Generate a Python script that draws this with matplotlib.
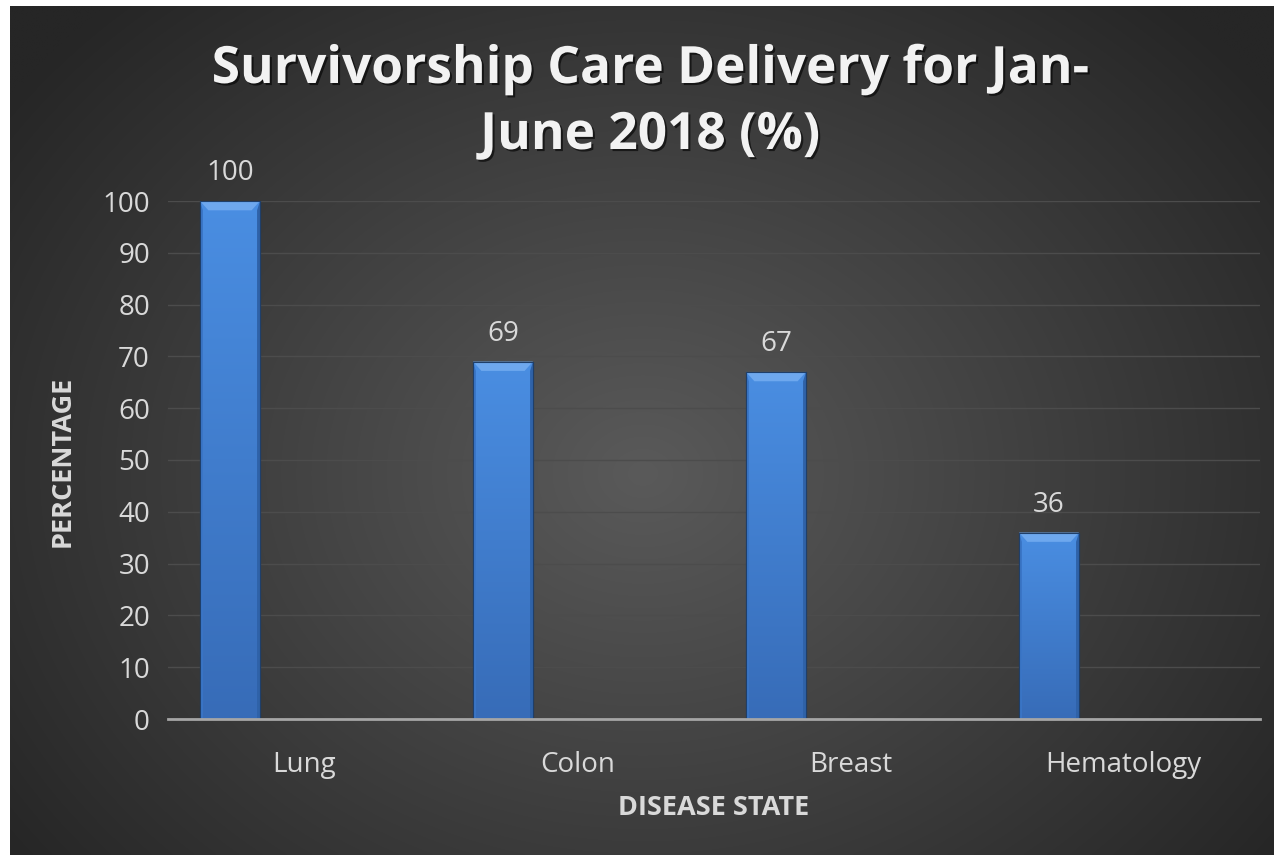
import numpy as np
import matplotlib
matplotlib.use("Agg")
import matplotlib.pyplot as plt
import matplotlib.patheffects as pe
from matplotlib.patches import Polygon

categories = ["Lung", "Colon", "Breast", "Hematology"]
values = [100, 69, 67, 36]
yticks = [0, 10, 20, 30, 40, 50, 60, 70, 80, 90, 100]
title = "Survivorship Care Delivery for Jan-\nJune 2018 (%)"
xlabel = "DISEASE STATE"
ylabel = "PERCENTAGE"

plt.rcParams['font.family'] = ['Open Sans', 'DejaVu Sans']

W, H = 1274, 855
fig = plt.figure(figsize=(W / 100, H / 100), dpi=100)
fig.patch.set_facecolor("white")

# background radial gradient
bg = fig.add_axes([10 / W, 0, 1 - 10 / W, 1 - 6 / H])
bg.set_axis_off()
ny, nx = 400, 600
yy, xx = np.mgrid[0:ny, 0:nx]
cx, cy = nx * 0.5, ny * 0.55
r = np.sqrt(((xx - cx) / (nx * 0.62)) ** 2 + ((yy - cy) / (ny * 0.75)) ** 2)
r = np.clip(r, 0, 1)
inner = np.array([0x5a, 0x5a, 0x5a]) / 255
outer = np.array([0x26, 0x26, 0x26]) / 255
img = inner[None, None, :] * (1 - r[..., None]) + outer[None, None, :] * r[..., None]
bg.imshow(img, aspect="auto", extent=[0, 1, 0, 1], interpolation="bilinear")
bg.set_xlim(0, 1)
bg.set_ylim(0, 1)

ax = fig.add_axes([168 / W, (H - 719) / H, (1260 - 168) / W, (719 - 201) / H])
ax.patch.set_alpha(0)
x = np.arange(len(categories))
bar_w = 60 / 273
offset = -74.5 / 273
bars = ax.bar(x + offset, values, width=bar_w, color="#3f80d4",
              edgecolor="#1f3f6a", linewidth=0.8, zorder=3)

top_c = np.array([0x4a, 0x8e, 0xe2]) / 255
bot_c = np.array([0x37, 0x6c, 0xb8]) / 255
for b in bars:
    x0, y0 = b.get_x(), b.get_y()
    w, h = b.get_width(), b.get_height()
    # vertical gradient fill clipped to bar
    t = np.linspace(0, 1, 100)[:, None, None]
    grad = top_c[None, None, :] * (1 - t) + bot_c[None, None, :] * t
    im = ax.imshow(grad, extent=[x0, x0 + w, y0, y0 + h], aspect="auto", zorder=3.5,
                   interpolation="bilinear")
    im.set_clip_path(b)
    dx = w * 0.14
    dy = 1.8
    top = Polygon([[x0, y0 + h], [x0 + w, y0 + h], [x0 + w - dx, y0 + h - dy], [x0 + dx, y0 + h - dy]],
                  closed=True, facecolor="#6ea8ee", edgecolor="none", zorder=4)
    left = Polygon([[x0, y0], [x0, y0 + h], [x0 + dx * 0.35, y0 + h - dy], [x0 + dx * 0.35, y0]],
                   closed=True, facecolor="#3a75c6", edgecolor="none", zorder=4)
    right = Polygon([[x0 + w, y0], [x0 + w, y0 + h], [x0 + w - dx * 0.35, y0 + h - dy], [x0 + w - dx * 0.35, y0]],
                    closed=True, facecolor="#2f62a8", edgecolor="none", zorder=4)
    for p in (top, left, right):
        ax.add_patch(p)
    ax.plot([x0, x0, x0 + w, x0 + w], [y0, y0 + h, y0 + h, y0], color="#1f3f6a", lw=0.8, zorder=4.5)
    ax.annotate(f"{h:g}", (x0 + w / 2, y0 + h), xytext=(0, 20), textcoords="offset points",
                ha="center", va="center", fontsize=20, color="#d9d9d9", annotation_clip=False)

ax.set_xlim(-0.5, len(categories) - 0.5)
ax.set_ylim(0, 100)
ax.set_yticks(yticks)
ax.set_xticks(x)
ax.set_xticklabels(categories)
ax.tick_params(axis="both", length=0, colors="#d9d9d9", labelsize=20)
ax.tick_params(axis="y", pad=13)
ax.tick_params(axis="x", pad=23)
ax.grid(axis="y", color="#4c4c4c", linewidth=1.0, zorder=0)
for s in ["top", "right", "left"]:
    ax.spines[s].set_visible(False)
ax.spines["bottom"].set_color("#a6a6a6")
ax.spines["bottom"].set_linewidth(2)
ax.spines["bottom"].set_zorder(5)

fig.text(714 / W, 1 - 808 / H, xlabel, ha="center", va="center", fontsize=19.5,
         fontweight="bold", color="#d9d9d9")
fig.text(63 / W, 1 - 461 / H, ylabel, ha="center", va="center", fontsize=19.5,
         fontweight="bold", color="#d9d9d9", rotation=90)

fig.text(650 / W, 1 - 70 / H, title.split("\n")[0], ha="center", va="center", fontsize=37,
         fontweight="bold", color="#f2f2f2",
         path_effects=[pe.withSimplePatchShadow(offset=(1.5, -1.5), shadow_rgbFace="black", alpha=0.6)])
fig.text(650 / W, 1 - 136 / H, title.split("\n")[1], ha="center", va="center", fontsize=37,
         fontweight="bold", color="#f2f2f2",
         path_effects=[pe.withSimplePatchShadow(offset=(1.5, -1.5), shadow_rgbFace="black", alpha=0.6)])

fig.savefig("out.png", dpi=100, facecolor=fig.get_facecolor())
